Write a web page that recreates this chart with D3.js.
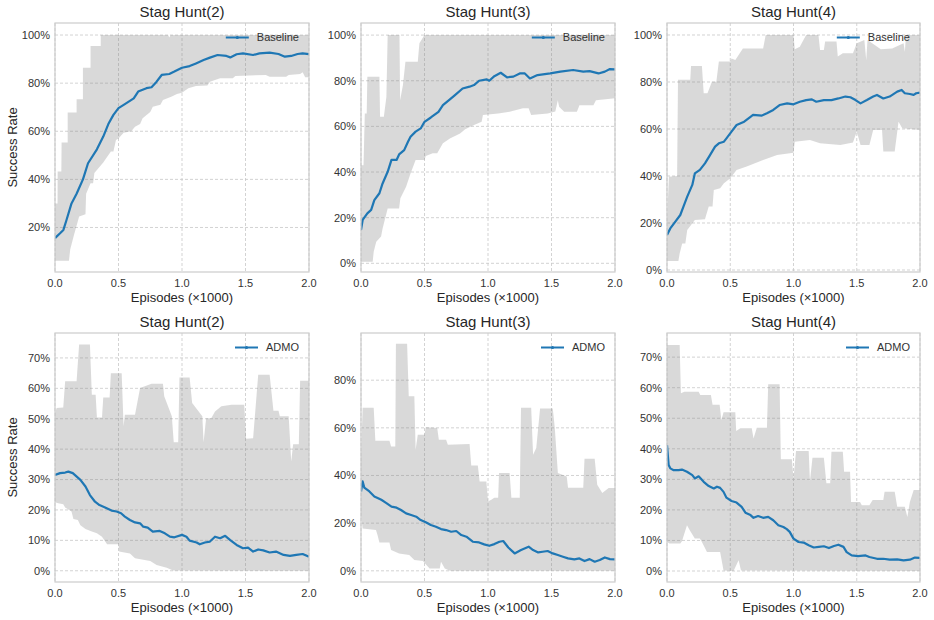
<!DOCTYPE html>
<html>
<head>
<meta charset="utf-8">
<script src="https://cdn.jsdelivr.net/npm/d3@7"></script>
<style>
  html, body { margin: 0; padding: 0; background: #fff; }
  svg { display: block; font-family: "Liberation Sans", Arial, sans-serif; }
</style>
</head>
<body>
<svg id="chart" width="934" height="620"></svg>
<script>
// ---------------- DATA (x in thousands of episodes, y in %) ----------------
const titles = ["Stag Hunt(2)", "Stag Hunt(3)", "Stag Hunt(4)", "Stag Hunt(2)", "Stag Hunt(3)", "Stag Hunt(4)"];
const seriesNames = ["Baseline", "Baseline", "Baseline", "ADMO", "ADMO", "ADMO"];
const xTicks = [0, 0.5, 1.0, 1.5, 2.0];
const yTicksTop = [[20, 40, 60, 80, 100], [0, 20, 40, 60, 80, 100], [0, 20, 40, 60, 80, 100]];
const yTicksBottom = [[0, 10, 20, 30, 40, 50, 60, 70], [0, 20, 40, 60, 80], [0, 10, 20, 30, 40, 50, 60, 70]];
const yDomains = [[1.5, 105], [-3.8, 105.3], [-0.85, 105.1], [-3.7, 78.2], [-4.7, 99.8], [-3.6, 77.9]];

// Stag Hunt(2) Baseline
const base2Mean = [[0,15.6],[0.04,17.6],[0.066,19],[0.09,23],[0.13,30],[0.17,34],[0.22,40],[0.26,46.7],[0.33,52.5],[0.38,57.8],[0.42,63],[0.46,66.8],[0.5,69.6],[0.55,71.3],[0.62,73.7],[0.655,76.5],[0.72,77.9],[0.76,78.3],[0.8,80.6],[0.84,83.4],[0.9,83.8],[0.94,84.8],[1.0,86.4],[1.06,87.1],[1.11,88.2],[1.17,89.6],[1.22,90.6],[1.28,91.7],[1.35,91.3],[1.38,90.7],[1.43,92.0],[1.48,92.4],[1.56,91.7],[1.61,92.4],[1.69,92.7],[1.76,92.1],[1.81,91.0],[1.86,91.3],[1.91,92.1],[1.95,92.4],[2.0,92.1]];
const base2Upper = [[0,30],[0.02,30],[0.021,43.3],[0.05,43.3],[0.052,55.3],[0.1,55.3],[0.1,67.8],[0.17,67.8],[0.17,73.3],[0.22,73.3],[0.22,86.4],[0.28,86.4],[0.28,95.4],[0.36,95.4],[0.36,100],[0.89,100],[0.9,99],[0.91,100],[2,100]];
const base2Lower = [[0,6.2],[0.11,6.2],[0.12,11],[0.15,17],[0.19,24.6],[0.24,25.5],[0.245,34],[0.28,38.4],[0.3,38.4],[0.31,42.6],[0.38,47],[0.44,51.6],[0.46,51.6],[0.48,56.4],[0.5,57],[0.54,59.4],[0.6,60],[0.63,61.9],[0.67,63],[0.69,65.4],[0.75,68],[0.77,70.2],[0.83,71],[0.85,73],[0.92,74.4],[0.96,75.5],[1.0,76],[1.05,77.9],[1.11,78.8],[1.2,79],[1.22,80.6],[1.3,82],[1.4,82],[1.42,83],[1.66,83.4],[1.69,82.7],[1.82,82.7],[1.84,83.4],[1.93,83.8],[1.95,84.5],[1.97,82.4],[2,82.4]];

// Stag Hunt(3) Baseline
const base3Mean = [[0,14.6],[0.013,19],[0.05,21.9],[0.08,23.4],[0.105,27.7],[0.145,30.7],[0.17,35],[0.21,40.1],[0.24,45.3],[0.28,45.3],[0.3,47.7],[0.34,49.6],[0.37,53.3],[0.39,55.5],[0.43,57.7],[0.47,59.1],[0.5,62],[0.55,63.9],[0.61,66.4],[0.645,69.3],[0.7,71.8],[0.74,73.7],[0.8,76.6],[0.855,77.4],[0.89,78.1],[0.93,80],[0.99,80.6],[1.01,80],[1.05,82],[1.1,83.5],[1.15,81.5],[1.2,81.8],[1.25,83.2],[1.29,83.2],[1.33,81],[1.39,82.5],[1.49,83.2],[1.57,84],[1.67,84.7],[1.75,84],[1.8,84.2],[1.87,83.2],[1.92,84],[1.96,85.1],[2.0,85]];
const base3Upper = [[0,43],[0.02,43],[0.03,65.7],[0.045,65.7],[0.05,81.8],[0.145,81.8],[0.15,64.2],[0.18,64.2],[0.2,73],[0.21,100],[0.303,100],[0.308,71.5],[0.33,78],[0.35,88.3],[0.447,88.3],[0.46,96.4],[0.5,100],[2,100]];
const base3Lower = [[0,0.7],[0.092,0.7],[0.1,5.1],[0.12,9.5],[0.158,11.7],[0.17,15.3],[0.21,24],[0.3,24],[0.31,28.5],[0.355,33.6],[0.39,39.4],[0.43,45.3],[0.5,45.3],[0.51,47],[0.565,48.2],[0.6,48.2],[0.645,52.6],[0.7,54.7],[0.78,56.9],[0.82,58.7],[0.89,60.6],[0.95,62],[0.96,65],[1.08,65.7],[1.17,66.4],[1.275,67.9],[1.32,67.9],[1.34,65],[1.47,65.7],[1.53,66.5],[1.55,71.5],[1.56,68.6],[1.6,66.4],[1.7,66.4],[1.72,69.3],[1.83,69.3],[1.85,71.5],[2,72.3]];

// Stag Hunt(4) Baseline
const base4Mean = [[0,14.9],[0.026,17.7],[0.066,20.6],[0.105,23.4],[0.13,27],[0.16,31.2],[0.2,36.2],[0.22,41.1],[0.26,42.6],[0.3,45.4],[0.34,48.9],[0.38,52.5],[0.41,53.9],[0.45,54.6],[0.47,56],[0.51,58.9],[0.55,61.7],[0.61,63.1],[0.66,65.2],[0.68,66],[0.75,65.7],[0.79,66.7],[0.84,68.1],[0.89,70.2],[0.95,70.9],[1.0,70.5],[1.05,71.6],[1.1,72.3],[1.145,72.6],[1.18,71.6],[1.24,72.3],[1.3,72.3],[1.355,73],[1.41,73.8],[1.45,73.5],[1.49,72.3],[1.53,70.9],[1.58,72.3],[1.63,73.8],[1.66,74.5],[1.71,73],[1.76,73.8],[1.82,75.9],[1.855,76.6],[1.88,75.2],[1.92,74.9],[1.95,74.5],[1.97,75.2],[2.0,75.5]];
const base4Upper = [[0,20],[0.015,39.7],[0.08,40],[0.087,80.9],[0.184,80.9],[0.19,86.8],[0.276,86.8],[0.29,75.2],[0.32,75.2],[0.355,80.1],[0.39,80.1],[0.41,88.7],[0.5,88.7],[0.51,90],[0.54,89.4],[0.6,94.3],[0.76,94.3],[0.78,100],[1.0,100],[1.01,93.9],[1.05,95],[1.1,100],[1.197,100],[1.21,93.6],[1.24,93.6],[1.25,97.2],[1.34,97.2],[1.35,90.8],[1.39,92.2],[1.47,92.2],[1.5,96.5],[1.56,97.9],[1.575,89.4],[1.585,97.9],[1.69,93.9],[1.78,94.3],[1.87,96.5],[1.88,92.9],[1.89,100],[2,100]];
const base4Lower = [[0,3.8],[0.09,3.8],[0.1,7],[0.12,11.3],[0.145,11.3],[0.16,17],[0.22,21.3],[0.3,21.6],[0.33,27],[0.36,27],[0.37,34],[0.42,34.8],[0.45,36.9],[0.5,39],[0.55,42.6],[0.63,44],[0.76,46.8],[0.87,48.9],[1.0,49.9],[1.01,54.6],[1.13,55.3],[1.21,53.9],[1.37,53.2],[1.47,54.2],[1.5,58.9],[1.53,53.2],[1.6,53.2],[1.63,59.6],[1.7,59.6],[1.71,50.4],[1.8,50.4],[1.83,63.1],[1.86,60.3],[2,59.6]];

// Stag Hunt(2) ADMO
const admo2Mean = [[0,31.5],[0.04,32.1],[0.08,32.3],[0.105,32.6],[0.14,32.1],[0.2,29.9],[0.24,27.7],[0.275,24.9],[0.315,22.7],[0.35,21.6],[0.39,20.9],[0.42,20.3],[0.445,19.8],[0.485,19.5],[0.52,18.9],[0.55,17.8],[0.59,16.7],[0.63,15.9],[0.67,15.6],[0.695,14.5],[0.73,14.2],[0.77,12.9],[0.825,13.1],[0.865,12.3],[0.905,11.2],[0.94,11],[1.0,11.8],[1.035,11.2],[1.06,9.9],[1.115,9.3],[1.14,8.7],[1.18,9.3],[1.22,9.6],[1.26,11.2],[1.3,10.7],[1.34,11.5],[1.38,10.1],[1.43,8.5],[1.48,7.4],[1.52,7.6],[1.56,6.3],[1.6,7],[1.64,6.7],[1.69,6],[1.74,6.3],[1.8,5.2],[1.85,4.9],[1.9,5.2],[1.95,5.5],[2.0,4.6]];
const admo2Upper = [[0,51.9],[0.013,53.5],[0.065,53.7],[0.08,62.3],[0.17,62.3],[0.19,74.4],[0.275,74.4],[0.29,57.9],[0.32,57.9],[0.33,50.4],[0.37,50.4],[0.38,57],[0.43,57],[0.44,65],[0.525,65],[0.54,47.5],[0.55,51.3],[0.63,51.3],[0.67,60.1],[0.76,61.5],[0.85,61.5],[0.86,57.4],[0.92,50.8],[0.935,42.3],[0.97,42.3],[0.98,63.6],[1.06,63.6],[1.08,55.2],[1.16,50.8],[1.17,42.3],[1.19,50.2],[1.23,50.2],[1.26,52.4],[1.31,54.1],[1.39,54.6],[1.49,54.6],[1.505,43.4],[1.56,43.6],[1.6,64.5],[1.69,64.5],[1.72,52.6],[1.76,52.6],[1.77,50.8],[1.84,50.8],[1.86,35.9],[1.875,41.6],[1.92,41.6],[1.93,62.5],[2,62.5]];
const admo2Lower = [[0,22.5],[0.026,22.2],[0.065,21.9],[0.08,20.8],[0.13,19.5],[0.145,17],[0.18,16.7],[0.2,15],[0.24,13.7],[0.26,13.4],[0.29,12.9],[0.33,12.3],[0.37,11.2],[0.41,8.7],[0.5,8.7],[0.505,6.3],[0.59,5.7],[0.63,4.1],[0.75,3.2],[0.8,1.9],[0.88,1],[0.93,0.1],[2,0]];

// Stag Hunt(3) ADMO
const admo3Mean = [[0,33.3],[0.013,37.5],[0.026,34.9],[0.066,33.3],[0.105,31.2],[0.16,29.8],[0.2,28.4],[0.24,26.9],[0.28,26.5],[0.315,25.5],[0.355,24.1],[0.395,23.4],[0.435,22.7],[0.47,21.3],[0.51,20.4],[0.55,19.2],[0.59,18.5],[0.63,17.5],[0.67,17.1],[0.71,16.4],[0.75,16.7],[0.79,15],[0.83,14.3],[0.88,12.2],[0.93,11.9],[0.97,11.1],[1.01,10.5],[1.05,11.2],[1.09,12.2],[1.12,12.5],[1.16,9.8],[1.21,7.3],[1.26,8.7],[1.32,10.1],[1.355,8.7],[1.395,7.7],[1.43,8],[1.47,8.3],[1.51,7.3],[1.55,6.6],[1.59,5.9],[1.63,5.2],[1.68,4.8],[1.72,5.2],[1.76,4.1],[1.8,4.9],[1.84,3.8],[1.88,4.5],[1.92,5.6],[1.96,4.9],[2.0,4.8]];
const admo3Upper = [[0,47.3],[0.013,68.4],[0.1,68.4],[0.113,54.6],[0.224,54.6],[0.237,52.2],[0.27,52.2],[0.275,95.3],[0.363,95.3],[0.376,73.3],[0.42,73.3],[0.43,50.8],[0.447,57.1],[0.5,57.1],[0.51,60.2],[0.6,59.9],[0.613,55],[0.67,55],[0.684,52.9],[0.855,53.2],[0.868,44.2],[0.92,44.2],[0.934,37.5],[0.987,37.5],[1.0,29.1],[1.026,29.8],[1.05,30.7],[1.08,30.7],[1.087,41],[1.17,41],[1.184,30.7],[1.25,30.7],[1.26,68.4],[1.34,68.4],[1.355,48.7],[1.38,51.5],[1.41,68.1],[1.51,68.1],[1.526,59.9],[1.55,41],[1.62,39.6],[1.63,34.9],[1.75,34.9],[1.76,47],[1.84,47],[1.86,36.1],[1.9,32.6],[1.95,34.7],[2,34.7]];
const admo3Lower = [[0,23.4],[0.013,17.8],[0.118,17.1],[0.13,15],[0.145,11.9],[0.224,11.9],[0.237,8.7],[0.3,7.3],[0.38,6.6],[0.42,4.5],[0.487,4.1],[0.54,1],[0.62,1],[0.63,3.8],[0.66,1],[0.7,0],[2,0]];

// Stag Hunt(4) ADMO
const admo4Mean = [[0,41.2],[0.013,34.7],[0.026,33.6],[0.053,33],[0.092,33],[0.118,33.2],[0.158,32.5],[0.2,31.4],[0.22,30.3],[0.25,31],[0.29,29.2],[0.33,27.8],[0.37,27],[0.395,27.6],[0.42,27.2],[0.447,25.9],[0.47,24],[0.51,22.9],[0.55,22.4],[0.59,21],[0.62,19.1],[0.66,18.3],[0.684,17.4],[0.72,18],[0.76,17.4],[0.8,17.7],[0.84,16.6],[0.88,15],[0.92,14.4],[0.947,13.7],[0.97,12.8],[1.0,10.6],[1.04,9.5],[1.08,9.3],[1.12,8.4],[1.16,7.7],[1.2,7.9],[1.24,8.1],[1.28,7.5],[1.32,8.2],[1.355,8.6],[1.395,7.9],[1.42,6.2],[1.46,5.1],[1.51,4.9],[1.57,5.1],[1.6,4.6],[1.66,4],[1.71,4],[1.76,3.7],[1.82,3.8],[1.87,3.5],[1.92,3.7],[1.96,4.4],[2.0,4.3]];
const admo4Upper = [[0,74],[0.1,74],[0.11,58.2],[0.137,58.7],[0.25,58.7],[0.263,57.6],[0.347,57.6],[0.36,54.4],[0.416,54.4],[0.43,49.4],[0.447,52],[0.54,52],[0.547,45.8],[0.58,46.7],[0.67,46.7],[0.684,43.4],[0.71,46.9],[0.79,46.9],[0.8,61.1],[0.89,61.1],[0.9,36.6],[0.987,36.6],[1.0,30.3],[1.02,39.3],[1.12,39.3],[1.13,29.4],[1.15,37.1],[1.24,37.1],[1.26,28.7],[1.29,28.7],[1.3,39],[1.39,39],[1.4,32.5],[1.447,32.5],[1.455,22.6],[1.526,22.6],[1.54,21.5],[1.6,21.5],[1.626,23.2],[1.71,23.2],[1.72,25.9],[1.8,25.9],[1.82,21],[1.88,21],[1.9,17.7],[1.92,22.6],[1.95,26.5],[2,26.5]];
const admo4Lower = [[0,9.5],[0.02,9],[0.105,9],[0.118,9.7],[0.158,15],[0.18,13.3],[0.22,10.6],[0.26,10.6],[0.276,9.5],[0.316,6.2],[0.42,6.2],[0.447,0.2],[0.526,0],[0.566,3.5],[0.585,0.2],[2,0]];

const means = [base2Mean, base3Mean, base4Mean, admo2Mean, admo3Mean, admo4Mean];
const uppers = [base2Upper, base3Upper, base4Upper, admo2Upper, admo3Upper, admo4Upper];
const lowers = [base2Lower, base3Lower, base4Lower, admo2Lower, admo3Lower, admo4Lower];
const yTicksAll = yTicksTop.concat(yTicksBottom);

// ---------------- LAYOUT ----------------
const cols = [{l: 55, r: 309}, {l: 361, r: 615}, {l: 667, r: 920}];
const rows = [{t: 23, b: 272}, {t: 333, b: 582}];
const lineColor = "#1f77b4";

const svg = d3.select("#chart");

for (let i = 0; i < 6; i++) {
  const c = cols[i % 3], r = rows[Math.floor(i / 3)];
  const x = d3.scaleLinear().domain([0, 2]).range([c.l, c.r]);
  const y = d3.scaleLinear().domain(yDomains[i]).range([r.b, r.t]);
  const g = svg.append("g");

  const clipId = "clip" + i;
  svg.append("clipPath").attr("id", clipId).append("rect")
    .attr("x", c.l).attr("y", r.t).attr("width", c.r - c.l).attr("height", r.b - r.t);

  // grid
  g.append("g").selectAll("line").data(xTicks).join("line")
    .attr("x1", d => x(d)).attr("x2", d => x(d)).attr("y1", r.t).attr("y2", r.b)
    .attr("stroke", "#c8c8c8").attr("stroke-width", 0.8).attr("stroke-dasharray", "3,2");
  g.append("g").selectAll("line").data(yTicksAll[i]).join("line")
    .attr("x1", c.l).attr("x2", c.r).attr("y1", d => y(d)).attr("y2", d => y(d))
    .attr("stroke", "#c8c8c8").attr("stroke-width", 0.8).attr("stroke-dasharray", "3,2");

  // band
  const lineGen = d3.line().x(d => x(d[0])).y(d => y(d[1]));
  const poly = uppers[i].concat(lowers[i].slice().reverse());
  g.append("path").attr("d", lineGen(poly) + "Z")
    .attr("fill", "#808080").attr("fill-opacity", 0.3).attr("stroke", "none")
    .attr("clip-path", `url(#${clipId})`);

  // mean line
  g.append("path").attr("d", lineGen(means[i]))
    .attr("fill", "none").attr("stroke", lineColor).attr("stroke-width", 2.2)
    .attr("stroke-linejoin", "round").attr("clip-path", `url(#${clipId})`);

  // frame
  g.append("rect").attr("x", c.l).attr("y", r.t).attr("width", c.r - c.l).attr("height", r.b - r.t)
    .attr("fill", "none").attr("stroke", "#cccccc").attr("stroke-width", 1.2);

  // x tick labels
  g.append("g").selectAll("text").data(xTicks).join("text")
    .attr("x", d => x(d)).attr("y", r.b + 15).attr("text-anchor", "middle")
    .attr("font-size", 11).attr("fill", "#333").text(d => d.toFixed(1));
  // y tick labels
  g.append("g").selectAll("text").data(yTicksAll[i]).join("text")
    .attr("x", c.l - 5).attr("y", d => y(d)).attr("dy", "0.35em").attr("text-anchor", "end")
    .attr("font-size", 11).attr("fill", "#333").text(d => d + "%");

  // x label
  g.append("text").attr("x", (c.l + c.r) / 2).attr("y", r.b + 30).attr("text-anchor", "middle")
    .attr("font-size", 13).attr("fill", "#262626").text("Episodes (×1000)");
  // title
  g.append("text").attr("x", (c.l + c.r) / 2).attr("y", r.t - 6).attr("text-anchor", "middle")
    .attr("font-size", 15).attr("fill", "#262626").text(titles[i]);
  // y label
  if (i % 3 === 0) {
    const cy = (r.t + r.b) / 2;
    g.append("text").attr("transform", `translate(12.5,${cy}) rotate(-90)`).attr("text-anchor", "middle")
      .attr("dy", "0.35em").attr("font-size", 13).attr("fill", "#262626").text("Success Rate");
  }

  // legend
  const ly = r.t + 14.5;
  const lt = g.append("text").attr("x", c.r - 10).attr("y", ly).attr("dy", "0.35em")
    .attr("text-anchor", "end").attr("font-size", 11).attr("fill", "#333").text(seriesNames[i]);
  const tw = lt.node().getComputedTextLength();
  const lx1 = c.r - 10 - tw - 8, lx0 = lx1 - 23;
  g.append("line").attr("x1", lx0).attr("x2", lx1).attr("y1", ly).attr("y2", ly)
    .attr("stroke", lineColor).attr("stroke-width", 2);
  g.append("circle").attr("cx", (lx0 + lx1) / 2).attr("cy", ly).attr("r", 1.6).attr("fill", lineColor);
}
</script>
</body>
</html>
